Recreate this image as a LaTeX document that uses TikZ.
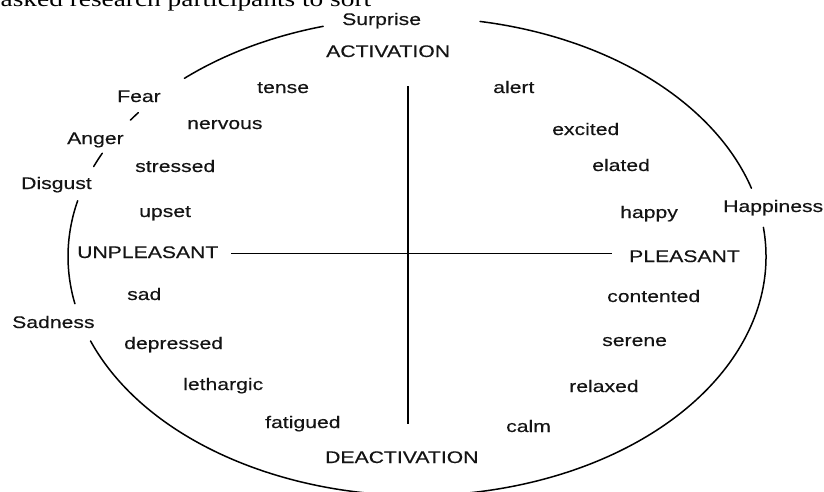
\documentclass[tikz,border=0pt]{standalone}
\usepackage{fontspec}
\newfontfamily\lblfont[FakeStretch=1.26,FakeBold=0.35]{Liberation Sans}
\newfontfamily\bodyfont[FakeStretch=1.26]{Liberation Serif}
\begin{document}
\begin{tikzpicture}[x=1pt,y=-1pt,
  lbl/.style={font=\lblfont\fontsize{16.8}{20}\selectfont, inner sep=0pt, anchor=base west, text=black!92},
  rim/.style={line width=1.5pt, line cap=round},
  axis/.style={line width=1.7pt},
  oval/.style={x radius=349, y radius=239}]
\useasboundingbox (0,0) rectangle (824,491);
\clip (0,0) rectangle (824,491);

% last line of the page text above the figure
\node[font=\bodyfont\fontsize{21.7}{24}\selectfont, inner sep=0pt, anchor=base west] (body) at (0.5,6) {asked research participants to sort};

% circumplex outline: one ellipse, broken where the basic emotions sit
\coordinate (ctr) at (417,256.5);
\draw[rim] (ctr) ++(254.4:349 and 239) arc[oval, start angle=254.4, end angle=228.2];
\draw[rim] (ctr) ++(217.0:349 and 239) arc[oval, start angle=217.0, end angle=214.8];
\draw[rim] (ctr) ++(205.6:349 and 239) arc[oval, start angle=205.6, end angle=202.1];
\draw[rim] (ctr) ++(193.5:349 and 239) arc[oval, start angle=193.5, end angle=168.6];
\draw[rim] (ctr) ++(159.3:349 and 239) arc[oval, start angle=159.3, end angle=-7.0];
\draw[rim] (ctr) ++(-16.6:349 and 239) arc[oval, start angle=-16.6, end angle=-79.6];

% axes
\coordinate (vtop) at (408,86);
\coordinate (vbot) at (408,424);
\coordinate (hleft) at (231,253.5);
\coordinate (hright) at (612,253.5);
\draw[axis] (vtop) -- (vbot);
\draw[axis, line width=1.4pt] (hleft) -- (hright);

% axis labels
\node[lbl] (act)   at (326,57)  {ACTIVATION};
\node[lbl] (deact) at (325,463) {DEACTIVATION};
\node[lbl] (unpl)  at (77,258)  {UNPLEASANT};
\node[lbl] (pl)    at (629,262) {PLEASANT};

% basic emotions on the rim
\node[lbl] (surprise)  at (342,25)  {Surprise};
\node[lbl] (fear)      at (117,102) {Fear};
\node[lbl] (anger)     at (67,144)  {Anger};
\node[lbl] (disgust)   at (21,189)  {Disgust};
\node[lbl] (sadness)   at (12,328)  {Sadness};
\node[lbl] (happiness) at (723,212) {Happiness};

% affect words inside
\node[lbl] (tense)     at (257,93)  {tense};
\node[lbl] (nervous)   at (187,129) {nervous};
\node[lbl] (stressed)  at (135,172) {stressed};
\node[lbl] (upset)     at (139,217) {upset};
\node[lbl] (sad)       at (127,300) {sad};
\node[lbl] (depressed) at (124,349) {depressed};
\node[lbl] (lethargic) at (183,390) {lethargic};
\node[lbl] (fatigued)  at (265,428) {fatigued};
\node[lbl] (alert)     at (493,93)  {alert};
\node[lbl] (excited)   at (552,135) {excited};
\node[lbl] (elated)    at (592,171) {elated};
\node[lbl] (happy)     at (620,218) {happy};
\node[lbl] (contented) at (607,302) {contented};
\node[lbl] (serene)    at (602,346) {serene};
\node[lbl] (relaxed)   at (569,392) {relaxed};
\node[lbl] (calm)      at (506,432) {calm};
\end{tikzpicture}
\end{document}
